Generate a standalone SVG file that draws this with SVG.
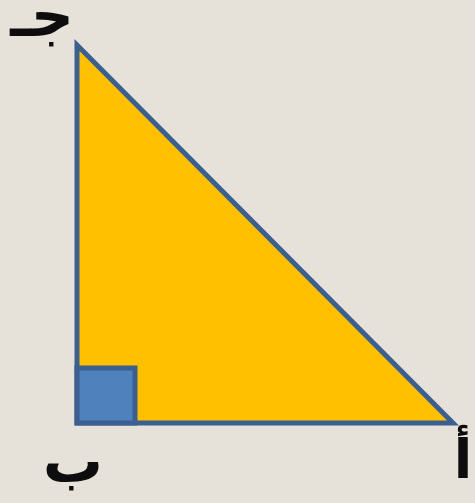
<svg xmlns="http://www.w3.org/2000/svg" width="475" height="503" viewBox="0 0 475 503">
<style>
.lbl{font-family:"DejaVu Sans","Noto Sans",sans-serif;font-weight:bold;fill:#0d0d0d}
</style>
<rect x="0" y="0" width="475" height="503" fill="#E7E2D9"/>
<g id="triangle">
<polygon points="77,45 77,423 453,423" fill="#FFC000" stroke="#3B5F8F" stroke-width="5" stroke-linejoin="miter"/>
</g>
<g id="right-angle">
<rect x="77" y="368" width="58" height="55" fill="#4F81BD" stroke="#3B5F8F" stroke-width="5"/>
</g>
<g id="label-j">
<text class="lbl" x="74" y="36" font-size="60" text-anchor="end">جـ</text>
</g>
<g id="label-b">
<text class="lbl" x="73" y="482" font-size="60" text-anchor="middle">ب</text>
</g>
<g id="label-a">
<text class="lbl" x="463" y="478" font-size="54" text-anchor="middle">أ</text>
</g>
</svg>
